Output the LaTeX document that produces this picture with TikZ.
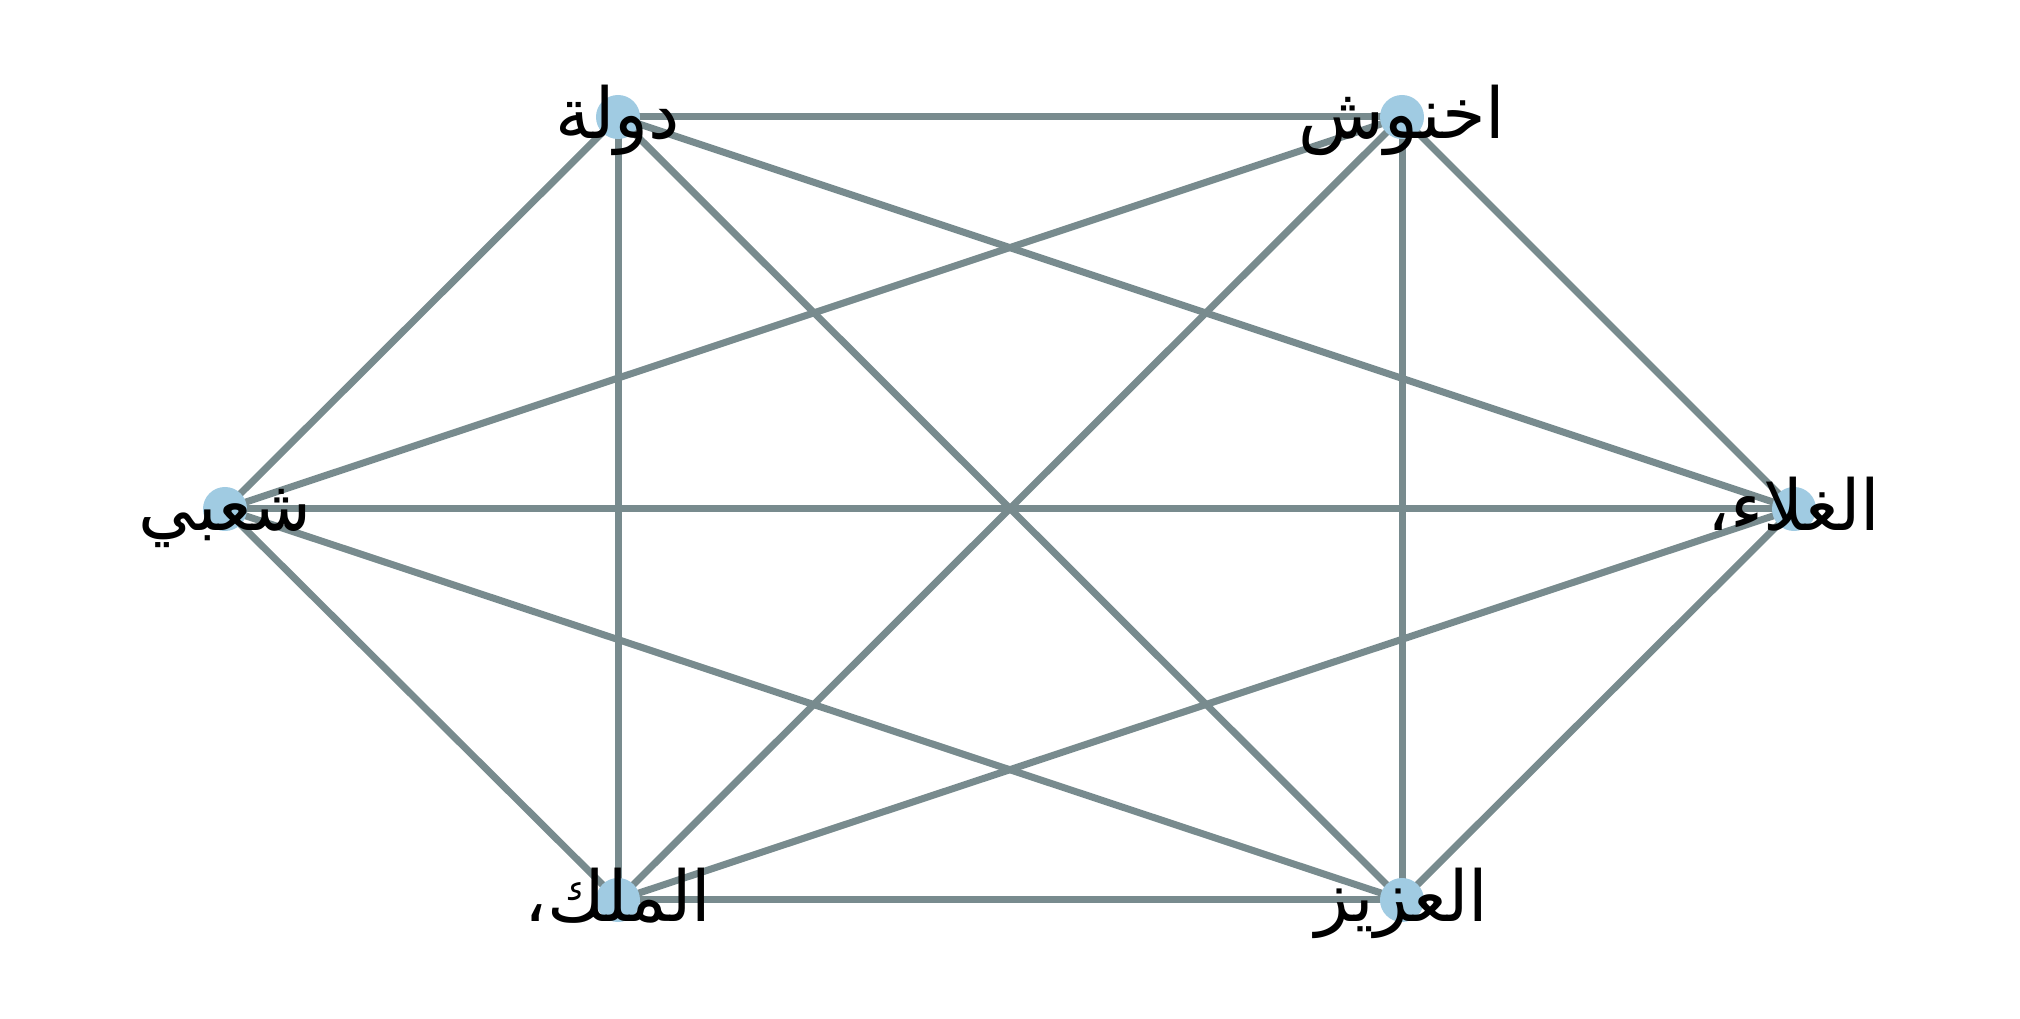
\documentclass[tikz,border=0pt]{standalone}
\usepackage{fontspec}
\newfontfamily\arabicfont[Script=Arabic]{DejaVu Sans}
\TeXXeTstate=1
\usetikzlibrary{backgrounds}
\definecolor{edgegrey}{RGB}{120,139,142}
\definecolor{nodeblue}{RGB}{160,203,226}
\tikzset{
  vertex/.style={circle,fill=nodeblue,inner sep=0pt,minimum size=0.44cm},
  vlabel/.style={anchor=base,yshift=-0.21cm,inner sep=0pt,font=\fontsize{20}{24}\arabicfont},
  link/.style={draw=edgegrey,line width=0.07cm}
}
\begin{document}
\begin{tikzpicture}[x=0.01cm,y=-0.01cm]
      \useasboundingbox (0,0) rectangle (2020,1019);
      \node[vertex] (dawla) at (618,117) {};
      \node[vertex] (akhannouch) at (1402,117) {};
      \node[vertex] (shaabi) at (225,509) {};
      \node[vertex] (ghala) at (1794,509) {};
      \node[vertex] (malik) at (618,900) {};
      \node[vertex] (aziz) at (1402,900) {};
      \begin{scope}[on background layer]
        \draw[link] (dawla.center) -- (akhannouch.center);
        \draw[link] (dawla.center) -- (shaabi.center);
        \draw[link] (dawla.center) -- (ghala.center);
        \draw[link] (dawla.center) -- (malik.center);
        \draw[link] (dawla.center) -- (aziz.center);
        \draw[link] (akhannouch.center) -- (shaabi.center);
        \draw[link] (akhannouch.center) -- (ghala.center);
        \draw[link] (akhannouch.center) -- (malik.center);
        \draw[link] (akhannouch.center) -- (aziz.center);
        \draw[link] (shaabi.center) -- (ghala.center);
        \draw[link] (shaabi.center) -- (malik.center);
        \draw[link] (shaabi.center) -- (aziz.center);
        \draw[link] (ghala.center) -- (malik.center);
        \draw[link] (ghala.center) -- (aziz.center);
        \draw[link] (malik.center) -- (aziz.center);
      \end{scope}
      \node[vlabel] (dawla label) at (dawla) {\beginR دولة\endR};
      \node[vlabel] (akhannouch label) at (akhannouch) {\beginR اخنوش\endR};
      \node[vlabel] (shaabi label) at (shaabi) {\beginR شعبي\endR};
      \node[vlabel] (ghala label) at (ghala) {\beginR الغلاء،\endR};
      \node[vlabel] (malik label) at (malik) {\beginR الملك،\endR};
      \node[vlabel] (aziz label) at (aziz) {\beginR العزيز\endR};
    \end{tikzpicture}
\end{document}
